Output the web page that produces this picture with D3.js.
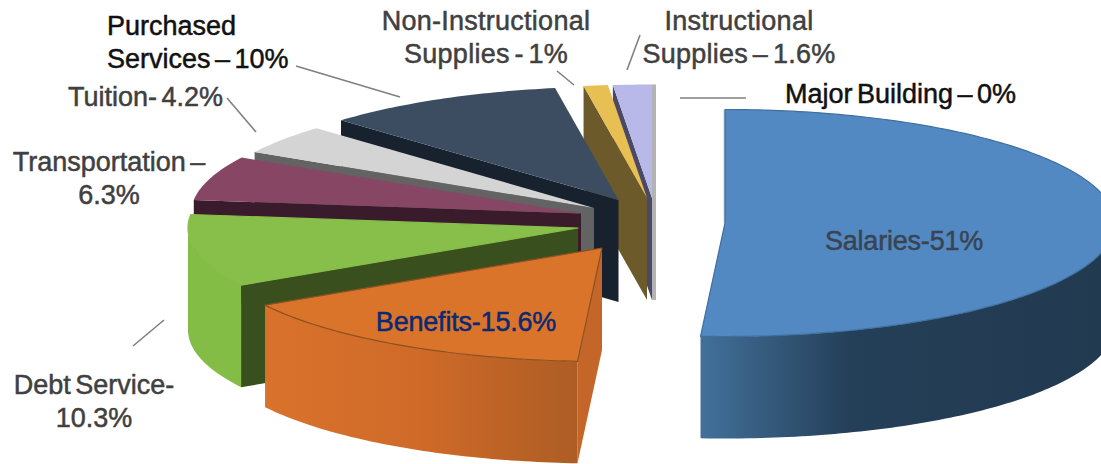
<!DOCTYPE html>
<html>
<head>
<meta charset="utf-8">
<script src="https://d3js.org/d3.v7.min.js"></script>
<style>
  html, body { margin: 0; padding: 0; background: #fff; }
  svg { display: block; }
  text { font-family: "Liberation Sans", Arial, sans-serif; font-size: 27px; word-spacing: -3px; }
</style>
</head>
<body>
<svg id="chart" width="1101" height="464"></svg>
<script>
// Budget shares, clockwise from twelve o'clock
const categories = ["Salaries", "Benefits", "Debt Service", "Transportation", "Tuition",
                    "Purchased Services", "Non-Instructional Supplies", "Instructional Supplies", "Major Building"];
const shares = [51, 15.6, 10.3, 6.3, 4.2, 10, 1, 1.6, 0];

// Surface colours per slice
const topColors  = ["#5289c3", "#db742b", "#87bf4a", "#874664", "#d4d4d4", "#3c4d62", "#e8bf52", "#b8b9e8", "#b3b3b3"];
const wallColors = ["#2c4c6b", "#c4652a", "#3a4f1e", "#3a1b2c", "#636363", "#18222f", "#6c5a2a", "#4a4a68", "#b3b3b3"];
const edgeColors = ["#3f6f9f", "#8c5220", "#87bf4a", "none", "none", "none", "none", "none", "none"];

// How far each slice is pulled away from the pie centre, in pixels
const pullX = [75, -48, -72, -69, -56, -31.5, -3, 2, 4];
const pullY = [-2, 23, 3, -11.5, -17, -25, -27, -27, -27];

// Outer wall shading, left to right
const wallShades = {
  Salaries: [[698, "#43719b"], [850, "#243f58"], [1101, "#223a50"]],
  Benefits: [[265, "#d9722b"], [420, "#cf6a29"], [578, "#ad5d24"]],
  "Debt Service": [[188, "#84bd45"], [240, "#84bd45"]]
};

// Text blocks: lines, anchor x, first baseline, colour, anchor mode, tracking
const labelText = [
  { lines: ["Purchased", "Services – 10%"], x: 107, y: 35, fill: "#111", anchor: "start", track: 0 },
  { lines: ["Tuition- 4.2%"], x: 68, y: 106, fill: "#404040", anchor: "start", track: 0 },
  { lines: ["Transportation –", "6.3%"], x: 109, y: 171, fill: "#404040", anchor: "middle", track: 0 },
  { lines: ["Non-Instructional", "Supplies - 1%"], x: 486, y: 30, fill: "#404040", anchor: "middle", track: 0.25 },
  { lines: ["Instructional", "Supplies – 1.6%"], x: 739, y: 30, fill: "#404040", anchor: "middle", track: 0.25 },
  { lines: ["Major Building – 0%"], x: 785, y: 103, fill: "#111", anchor: "start", track: 0 },
  { lines: ["Salaries-51%"], x: 904, y: 250, fill: "#3a4450", anchor: "middle", track: -0.2 },
  { lines: ["Benefits-15.6%"], x: 466, y: 331, fill: "#0c2a72", anchor: "middle", track: -0.2 },
  { lines: ["Debt Service-", "10.3%"], x: 94, y: 394, fill: "#404040", anchor: "middle", track: 0 }
];
const leaderLines = [
  [296, 66, 400, 97], [227, 98, 256, 132], [133, 346, 164, 320],
  [557, 71, 574, 85], [627, 70, 640, 35], [680, 98, 746, 98]
];

const svg = d3.select("#chart");
const defs = svg.append("defs");

const cx = 650, cy = 225;
const rx = 390, ry = 113.5, depth = 102;

// Unit circle to screen offsets: a flattened ellipse seen from above the front
const rimX = d3.scaleLinear().domain([-1, 1]).range([-rx, rx]);
const rimY = d3.scaleLinear().domain([-1, 1]).range([ry, -ry]);

const arcs = d3.pie().sort(null).startAngle(0).endAngle(2 * Math.PI).value(d => d)(shares);
const line = d3.line();

function rim(i, a, drop = 0) {
  return [cx + pullX[i] + rimX(Math.sin(a)), cy + pullY[i] + rimY(Math.cos(a)) + drop];
}
function apex(i, drop = 0) {
  return [cx + pullX[i], cy + pullY[i] + drop];
}
function sweep(i, a0, a1, drop = 0) {
  const n = Math.max(1, Math.ceil((a1 - a0) / (Math.PI / 180)));
  return d3.range(n + 1).map(k => rim(i, a0 + (a1 - a0) * k / n, drop));
}

// Painted back to front so nearer slices cover the walls behind them
const paintOrder = [0, 8, 7, 6, 5, 4, 3, 2, 1];

paintOrder.forEach(i => {
  const { startAngle: a0, endAngle: a1 } = arcs[i];
  const name = categories[i];
  const g = svg.append("g").attr("class", "slice");

  // Zero share: only a thin sliver of the cut face shows
  if (shares[i] === 0) {
    g.append("path")
      .attr("d", line([rim(i, a0), apex(i, depth)]))
      .attr("stroke", wallColors[i]).attr("stroke-width", 4).attr("fill", "none");
    return;
  }

  // A cut face seen exactly edge-on leaves only a pale sliver
  if (a0 === 0) {
    g.append("path")
      .attr("d", line([rim(i, a0), apex(i)]))
      .attr("stroke", "#cfcfcf").attr("stroke-width", 3).attr("fill", "none");
  }

  // The cut face on the start edge, when it turns toward the viewer
  if (Math.sin(a0) < 0) {
    g.append("path")
      .attr("d", line([apex(i), rim(i, a0), rim(i, a0, depth), apex(i, depth)]) + "Z")
      .attr("fill", wallColors[i]);
  }

  // Curved outer wall, only along the front half of the ellipse
  const w0 = Math.max(a0, Math.PI / 2), w1 = Math.min(a1, 3 * Math.PI / 2);
  if (w1 > w0) {
    let fill = wallColors[i];
    if (wallShades[name]) {
      const stops = wallShades[name];
      const id = "wall" + i;
      const grad = defs.append("linearGradient").attr("id", id)
        .attr("gradientUnits", "userSpaceOnUse")
        .attr("x1", stops[0][0]).attr("x2", stops[stops.length - 1][0])
        .attr("y1", 0).attr("y2", 0);
      const t = d3.scaleLinear().domain([stops[0][0], stops[stops.length - 1][0]]).range([0, 1]);
      stops.forEach(s => grad.append("stop").attr("offset", t(s[0])).attr("stop-color", s[1]));
      fill = `url(#${id})`;
    }
    const upper = sweep(i, w0, w1);
    const lower = sweep(i, w0, w1, depth).reverse();
    g.append("path").attr("d", line(upper.concat(lower)) + "Z").attr("fill", fill);
  }

  // Top face
  g.append("path")
    .attr("d", line([apex(i)].concat(sweep(i, a0, a1))) + "Z")
    .attr("fill", topColors[i])
    .attr("stroke", edgeColors[i])
    .attr("stroke-width", 1.2)
    .attr("stroke-linejoin", "round");
});

// Leader lines
svg.append("g").selectAll("line").data(leaderLines).join("line")
  .attr("x1", d => d[0]).attr("y1", d => d[1])
  .attr("x2", d => d[2]).attr("y2", d => d[3])
  .attr("stroke", "#808080").attr("stroke-width", 1.6);

// Labels
const labels = svg.append("g").selectAll("text").data(labelText).join("text")
  .attr("x", d => d.x).attr("y", d => d.y)
  .attr("fill", d => d.fill)
  .attr("stroke", d => d.fill)
  .attr("stroke-width", 0.5)
  .attr("letter-spacing", d => d.track)
  .attr("text-anchor", d => d.anchor);
labels.selectAll("tspan").data(d => d.lines.map(t => ({ t, x: d.x }))).join("tspan")
  .attr("x", d => d.x)
  .attr("dy", (d, k) => k === 0 ? 0 : 33)
  .text(d => d.t);
</script>
</body>
</html>
